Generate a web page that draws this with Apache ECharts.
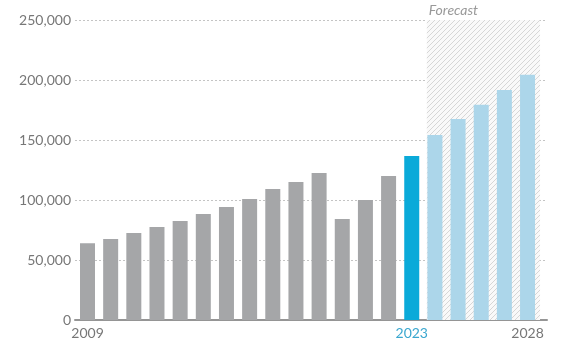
<!DOCTYPE html>
<html>
<head>
<meta charset="utf-8">
<script src="https://cdn.jsdelivr.net/npm/echarts@6/dist/echarts.min.js"></script>
<style>
html,body{margin:0;padding:0;background:#fff;}
#c{width:580px;height:347px;}
</style>
</head>
<body>
<div id="c"></div>
<script>
var years = [2009,2010,2011,2012,2013,2014,2015,2016,2017,2018,2019,2020,2021,2022,2023,2024,2025,2026,2027,2028];
var values = [64000,67500,72500,77500,82500,88300,94200,100800,109200,115000,122500,84200,100000,120000,136700,154200,167500,179400,191700,204400];
var currentYear = 2023;
var forecastStart = 2023.65;
var forecastEnd = 2028.54;
var forecastLabel = 'Forecast';
var xTickLabels = [2009, 2023, 2028];
var yTicks = [0, 50000, 100000, 150000, 200000, 250000];

function hatch() {
  var c = document.createElement('canvas');
  c.width = 5; c.height = 5;
  var g = c.getContext('2d');
  g.fillStyle = '#f9f9f9';
  g.fillRect(0,0,5,5);
  g.strokeStyle = '#d6d6d6';
  g.lineWidth = 1;
  g.beginPath();
  g.moveTo(-1,6); g.lineTo(6,-1);
  g.moveTo(-1,1); g.lineTo(1,-1);
  g.moveTo(4,6); g.lineTo(6,4);
  g.stroke();
  return c;
}

function fmt(v){ return String(v).replace(/\B(?=(\d{3})+(?!\d))/g, ','); }

var barData = years.map(function(y, i){
  var col = y < currentYear ? '#a5a6a8' : (y === currentYear ? '#0aaad9' : '#acd6ea');
  return { value: [y, values[i]], itemStyle: { color: col } };
});

var chart = echarts.init(document.getElementById('c'), null, {renderer:'canvas'});
chart.setOption({
  animation: false,
  grid: { left: 75, right: 33, top: 20, bottom: 27, containLabel: false },
  xAxis: {
    type: 'value', min: 2008.46, max: 2028.84,
    splitLine: { show: false },
    axisLine: { show: true, lineStyle: { color: '#959595', width: 2 } },
    axisTick: { show: false },
    axisLabel: {
      customValues: xTickLabels,
      margin: 6,
      color: '#777', fontSize: 14, fontFamily: 'Lato',
      formatter: function(v){ return v === currentYear ? '{hl|' + v + '}' : String(v); },
      rich: { hl: { color: '#3aa7cf', fontSize: 14, fontFamily: 'Lato' } }
    }
  },
  yAxis: {
    type: 'value', min: 0, max: 250000, interval: 50000,
    axisLine: { show: false }, axisTick: { show: false },
    axisLabel: { color: '#777', fontSize: 14, fontFamily: 'Lato', margin: 4, formatter: function(v){ return fmt(v); } },
    splitLine: { show: true, lineStyle: { color: '#c4c4c4', type: [2,2], width: 1 } }
  },
  series: [
    {
      type: 'line', data: [], z: 1, silent: true,
      markArea: {
        silent: true,
        itemStyle: { color: { image: hatch(), repeat: 'repeat' } },
        label: { show: true, position: [2, -17], color: '#999', fontStyle: 'italic', fontSize: 14, fontFamily: 'Lato' },
        data: [[{ name: forecastLabel, xAxis: forecastStart, yAxis: yTicks[0] }, { xAxis: forecastEnd, yAxis: yTicks[yTicks.length-1] }]]
      }
    },
    {
      type: 'bar', z: 3, barWidth: 15, data: barData
    }
  ]
});
</script>
</body>
</html>
